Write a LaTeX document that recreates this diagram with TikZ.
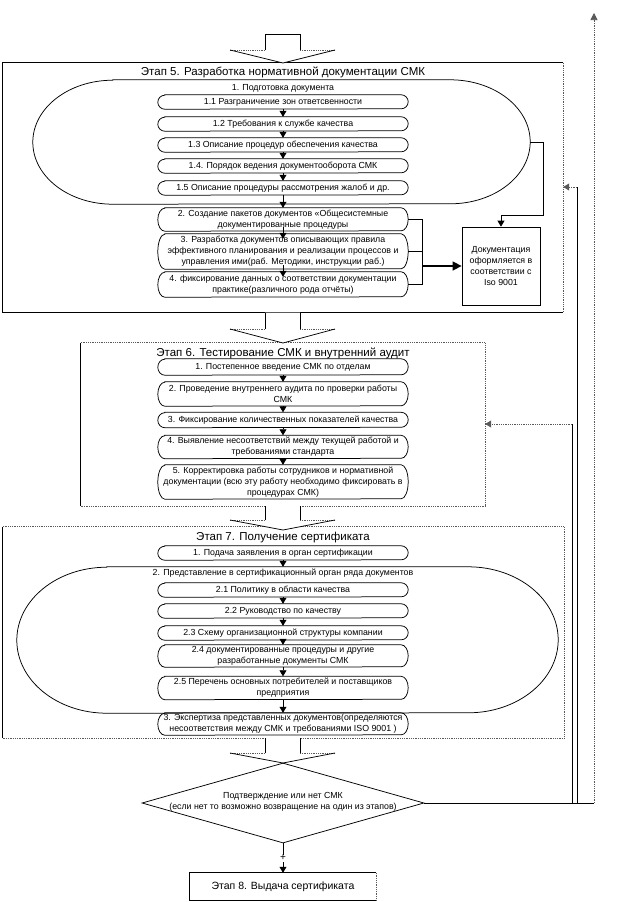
\documentclass[tikz,border=0pt]{standalone}
\usepackage{fontspec}
\setmainfont{Liberation Sans}
\usetikzlibrary{arrows.meta,shapes.geometric}
\tikzset{
 ln/.style={line width=0.75pt, black},
 dotln/.style={line width=0.75pt, black!65, dash pattern=on 0.9pt off 0.9pt},
 sbt/.style={inner sep=0pt, minimum width=250pt, align=center, font=\fontsize{8.8}{11}\selectfont},
 ttl/.style={inner sep=0pt, font=\fontsize{11.5}{13}\selectfont},
 lbl/.style={inner sep=0pt, font=\fontsize{8.8}{11}\selectfont, align=center},
 tip/.style={-{Triangle[length=6pt,width=7pt]}},
 frame/.style={inner sep=0pt, draw=none},
}
\newcommand\subbx[5]{%
 \node[sbt, minimum height=#4pt] (#1) at (#2,#3) {#5};
 \draw[ln] ([xshift=7pt]#1.north west) -- ([xshift=-7pt]#1.north east)
   arc[start angle=90, end angle=-90, x radius=7pt, y radius=#4pt/2]
   -- ([xshift=7pt]#1.south west)
   arc[start angle=270, end angle=90, x radius=7pt, y radius=#4pt/2] -- cycle;
}
\newcommand\stadium[6]{%
 \node[frame, minimum width=#4pt, minimum height=#5pt] (#1) at (#2,#3) {};
 \draw[ln] ([xshift=#6pt]#1.north west) -- ([xshift=-#6pt]#1.north east)
   arc[start angle=90, end angle=-90, x radius=#6pt, y radius=#5pt/2]
   -- ([xshift=#6pt]#1.south west)
   arc[start angle=270, end angle=90, x radius=#6pt, y radius=#5pt/2] -- cycle;
}
\newcommand\bigarr[3]{%
 \fill[white] (265,-#1) -- (265,-#2) -- (230,-#2) -- (283,-#3) -- (335,-#2) -- (300,-#2) -- (300,-#1) -- cycle;
 \draw[ln] (265,-#1) -- (265,-#2);
 \draw[ln] (300,-#1) -- (300,-#2);
 \draw[dotln] (265,-#2) -- (230,-#2);
 \draw[dotln] (300,-#2) -- (335,-#2);
 \draw[ln] (230,-#2) -- (283,-#3) -- (335,-#2);
}
\begin{document}
\begin{tikzpicture}[x=1pt,y=1pt]
\useasboundingbox (0,0) rectangle (618,-902);
\fill[white] (0,0) rectangle (618,-902);

% ---------- Stage 5 ----------
\node[frame, minimum width=560pt, minimum height=249pt] (s5) at (283,-187.5) {};
\draw[ln] (s5.north east) -- (s5.north west) -- (s5.south west) -- (s5.south east);
\draw[dotln] (s5.north east) -- (s5.south east);
\node[ttl] (t5) at (283,-72) {Этап 5. Разработка нормативной документации СМК};

\stadium{S1}{281.5}{-142}{497}{124}{80}
\node[lbl] (S1l) at (283,-88) {1. Подготовка документа};

\subbx{b11}{283}{-102}{14}{1.1 Разграничение зон ответсвенности}
\subbx{b12}{283}{-124}{14}{1.2 Требования к службе качества}
\subbx{b13}{283}{-145}{14}{1.3 Описание процедур обеспечения качества}
\subbx{b14}{283}{-166}{14}{1.4. Порядок ведения документооборота СМК}
\subbx{b15}{283}{-188}{14}{1.5 Описание процедуры рассмотрения жалоб и др.}
\subbx{b2}{283}{-219.5}{23}{2. Создание пакетов документов «Общесистемные\\документированные процедуры}
\subbx{b3}{283}{-251.5}{35}{3. Разработка документов описывающих правила\\эффективного планирования и реализации процессов и\\управления ими(раб. Методики, инструкции раб.)}
\subbx{b4}{283}{-284.5}{25}{4. фиксирование данных о соответствии документации\\практике(различного рода отчёты)}

\draw[ln,tip] (b11.south) -- (b12.north);
\draw[ln,tip] (b12.south) -- (b13.north);
\draw[ln,tip] (b13.south) -- (b14.north);
\draw[ln,tip] (b14.south) -- (b15.north);
\draw[ln,tip] (b15.south) -- (b2.north);
\draw[ln,tip] ([yshift=4pt]b2.south) -- ([yshift=-5pt]b3.north);
\draw[ln,tip] ([yshift=4pt]b3.south) -- ([yshift=-5pt]b4.north);

\node[draw, ln, minimum width=78pt, minimum height=78pt, inner sep=0pt, align=center,
  font=\fontsize{8.8}{11}\selectfont] (R) at (501,-266) {Документация\\оформляется в\\соответствии с\\Iso 9001};

\coordinate (k1) at (543,-215);
\draw[ln,tip] (S1.east) -| (k1) -| (R.north);
\coordinate (bus) at (422,-266);
\draw[ln] (b2.east) -| (bus);
\draw[ln] (b4.east) -| (bus);
\draw[ln] (b3.east) -- (b3.east -| bus);
\draw[line width=1.4pt, -{Triangle[length=9pt,width=9pt]}] (bus) -- (R.west);

% ---------- Stage 6 ----------
\node[frame, minimum width=404pt, minimum height=163pt] (s6) at (283,-424.5) {};
\draw[ln] (s6.north west) -- (s6.south west);
\draw[dotln] (s6.north west) -- (s6.north east) -- (s6.south east) -- (s6.south west);
\node[ttl] (t6) at (283,-353) {Этап 6. Тестирование СМК и внутренний аудит};

\subbx{c1}{283}{-367}{16}{1. Постепенное введение СМК по отделам}
\subbx{c2}{283}{-394}{24}{2. Проведение внутреннего аудита по проверки работы\\СМК}
\subbx{c3}{283}{-420}{15}{3. Фиксирование количественных показателей качества}
\subbx{c4}{283}{-447}{23}{4. Выявление несоответствий между текущей работой и\\требованиями стандарта}
\subbx{c5}{283}{-482}{34}{5. Корректировка работы сотрудников и нормативной\\документации (всю эту работу необходимо фиксировать в\\процедурах СМК)}
\draw[ln,tip] (c1.south) -- (c2.north);
\draw[ln,tip] (c2.south) -- (c3.north);
\draw[ln,tip] (c3.south) -- (c4.north);
\draw[ln,tip] (c4.south) -- (c5.north);

% ---------- Stage 7 ----------
\node[frame, minimum width=561pt, minimum height=211pt] (s7) at (283.5,-632.5) {};
\draw[ln] (s7.north west) -- (s7.south west);
\draw[dotln] (s7.north west) -- (s7.north east) -- (s7.south east) -- (s7.south west);
\node[ttl] (t7) at (283,-538) {Этап 7. Получение сертификата};

\subbx{d1}{283}{-553}{14}{1. Подача заявления в орган сертификации}
\stadium{S2}{287.5}{-640}{541}{146}{90}
\node[lbl] (S2l) at (283,-573) {2. Представление в сертификационный орган ряда документов};
\subbx{d21}{283}{-590}{14}{2.1 Политику в области качества}
\subbx{d22}{283}{-611}{14}{2.2 Руководство по качеству}
\subbx{d23}{283}{-633}{14}{2.3 Схему организационной структуры компании}
\subbx{d24}{283}{-656}{22}{2.4 документированные процедуры и другие\\разработанные документы СМК}
\subbx{d25}{283}{-688}{23}{2.5 Перечень основных потребителей и поставщиков\\предприятия}
\subbx{d3}{283}{-724}{22}{3. Экспертиза представленных документов(определяются\\несоответствия между СМК и требованиями ISO 9001 )}
\draw[ln,tip] (d1.south) -- (S2.north -| d1.south);
\draw[ln,tip] (d21.south) -- (d22.north);
\draw[ln,tip] (d22.south) -- (d23.north);
\draw[ln,tip] (d23.south) -- (d24.north);
\draw[ln,tip] (d24.south) -- (d25.north);
\draw[ln,tip] (d25.south) -- (d3.north);

% ---------- big arrows ----------
\bigarr{34}{50}{63}
\draw[ln] (265,-34) -- (300,-34);
\bigarr{312.5}{329}{343}
\bigarr{506}{520}{530}
\bigarr{738}{753}{763}

% ---------- decision ----------
\node[diamond, draw, ln, minimum width=282pt, minimum height=80pt, inner sep=0pt, aspect=3.5] (D) at (283,-803) {};
\node[lbl] (Dt) at (283,-802) {Подтверждение или нет СМК\\(если нет то возможно возвращение на один из этапов)};

\node[frame, minimum width=186pt, minimum height=27pt, font=\fontsize{10.5}{12}\selectfont] (E) at (283,-886.5) {Этап 8. Выдача сертификата};
\draw[ln] (E.north east) -- (E.north west) -- (E.south west) -- (E.south east);
\draw[dotln] (E.north east) -- (E.south east);

\draw[ln,tip] (D.south) -- (E.north) node[midway, fill=white, inner sep=0.6pt, font=\fontsize{10}{10}\selectfont] (plus) {+};

% ---------- feedback ----------
\coordinate (fbR) at (594,-803);
\coordinate (fbTop) at (594,-13);
\coordinate (fb5) at (577,-803);
\coordinate (fb5t) at (577,-187);
\coordinate (fb6) at (572,-803);
\coordinate (fb6t) at (572,-424);
\draw[ln] (D.east) -- (fbR);
\draw[dotln, -{Triangle[length=7pt,width=7pt]}] (fbR) -- (fbTop);
\draw[ln] (fb5) -- (fb5t);
\draw[dotln, -{Triangle[length=6pt,width=7pt]}] (fb5t) -- (fb5t -| s5.east);
\draw[ln] (fb6) -- (fb6t);
\draw[dotln, -{Triangle[length=6pt,width=7pt]}] (fb6t) -- (fb6t -| s6.east);
\end{tikzpicture}
\end{document}
